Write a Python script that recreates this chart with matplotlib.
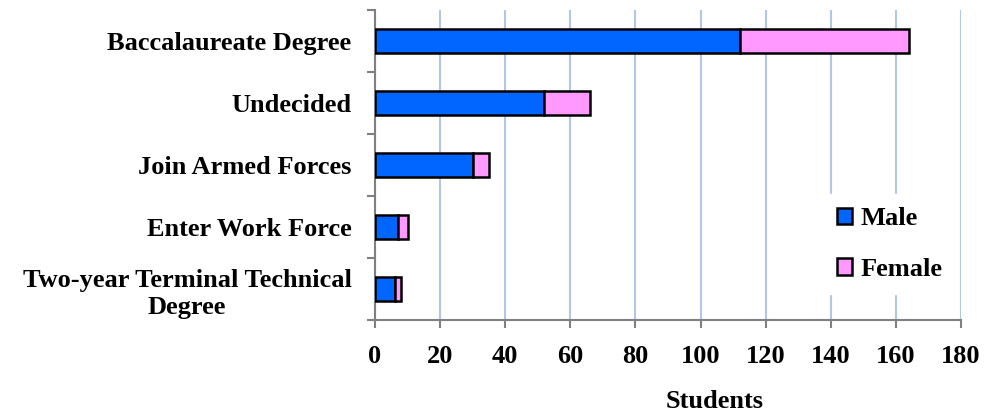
import matplotlib
matplotlib.use("Agg")
import matplotlib.pyplot as plt

categories = ["Baccalaureate Degree", "Undecided", "Join Armed Forces",
              "Enter Work Force", "Two-year Terminal Technical\nDegree"]
male = [112, 52, 30, 7, 6]
female = [52, 14, 5, 3, 2]
xticks = [0, 20, 40, 60, 80, 100, 120, 140, 160, 180]

plt.rcParams['font.family'] = ['Liberation Serif', 'DejaVu Serif']
plt.rcParams['font.weight'] = 'bold'

fs = 19
fig = plt.figure(figsize=(9.84, 4.13), dpi=100)
ax = fig.add_axes([375/984, 1-320/413, (961-375)/984, (320-10)/413])

n = len(categories)
ypos = list(range(n))
blue = '#0066ff'
pink = '#ff99ff'
ax.barh(ypos, male, height=0.4, color=blue, edgecolor='black', linewidth=1.8, label='Male', zorder=3)
ax.barh(ypos, female, left=male, height=0.4, color=pink, edgecolor='black', linewidth=1.8, label='Female', zorder=3)

ax.set_ylim(n - 0.5, -0.5)
ax.set_xlim(0, 180)
ax.set_xticks(xticks)
ax.set_xticklabels([str(v) for v in xticks], fontsize=fs, fontweight='bold')
ax.set_yticks(ypos)
ax.set_yticklabels(categories, fontsize=fs, fontweight='bold', multialignment='center',
                   linespacing=1.25)
ax.tick_params(axis='y', length=0, pad=17)
ax.set_yticks([i - 0.5 for i in range(n + 1)], minor=True)
ax.tick_params(axis='y', which='minor', length=6, color='#808080', width=1.5)
ax.tick_params(axis='x', length=6, color='#808080', width=1.5, pad=12)

ax.grid(axis='x', color='#b3c6e8', linewidth=1.5, zorder=0)
ax.set_axisbelow(True)
for s in ['top', 'right']:
    ax.spines[s].set_visible(False)
for s in ['left', 'bottom']:
    ax.spines[s].set_color('#808080')
    ax.spines[s].set_linewidth(1.5)

ax.set_xlabel('Students', fontsize=fs, fontweight='bold')
ax.xaxis.set_label_coords(0.58, -0.225, transform=ax.transAxes)
ax.xaxis.label.set_verticalalignment('top')

leg = ax.legend(loc='center', bbox_to_anchor=(0.878, 0.245), frameon=True,
                fontsize=fs, handlelength=0.6, handleheight=0.6, labelspacing=1.05,
                borderpad=0.5, handletextpad=0.3, borderaxespad=0)
leg.get_frame().set_edgecolor('white')
leg.get_frame().set_facecolor('white')
leg.get_frame().set_alpha(1)
for t in leg.get_texts():
    t.set_fontweight('bold')

fig.savefig('out.png', dpi=100)
